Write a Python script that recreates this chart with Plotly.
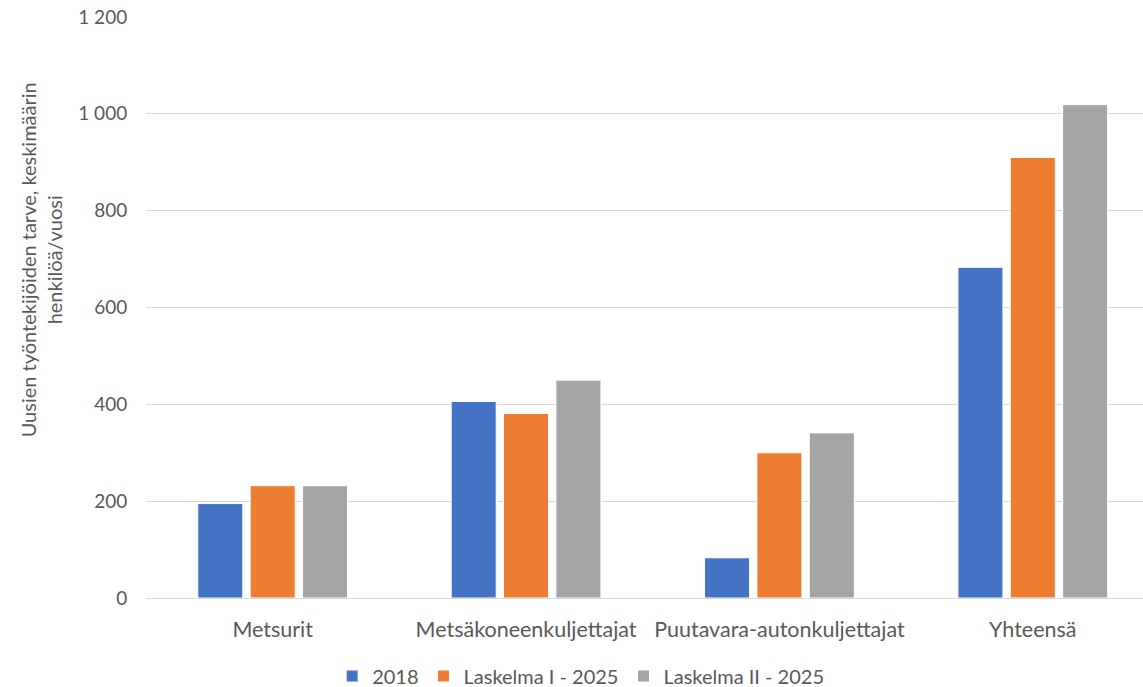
import plotly.graph_objects as go

categories = ["Metsurit", "Metsäkoneenkuljettajat", "Puutavara-autonkuljettajat", "Yhteensä"]
series_names = ["2018", "Laskelma I - 2025", "Laskelma II - 2025"]
values_2018 = [195, 406, 83, 683]
values_l1 = [232, 381, 300, 910]
values_l2 = [232, 450, 341, 1019]
colors = ["#4472C4", "#ED7D31", "#A5A5A5"]
y_ticks = [0, 200, 400, 600, 800, 1000, 1200]
y_title = "Uusien työntekijöiden tarve, keskimäärin<br>henkilöä/vuosi"

fig = go.Figure()
for name, vals, col in zip(series_names, [values_2018, values_l1, values_l2], colors):
    fig.add_trace(go.Bar(
        x=categories, y=vals, name=name,
        marker=dict(color=col, line=dict(color="white", width=1)),
    ))

txt = "#595959"
fig.update_layout(
    width=1143, height=687,
    paper_bgcolor="white", plot_bgcolor="white",
    margin=dict(l=146, r=0, t=17, b=89, autoexpand=False),
    barmode="group", bargap=0.38, bargroupgap=0.14,
    separators=", ",
    font=dict(family="Lato, Carlito, sans-serif", size=19, color=txt),
    legend=dict(orientation="h", xref="container", yref="container",
                x=0.508, xanchor="center", y=0.016, yanchor="middle",
                font=dict(size=20, color=txt), itemwidth=30,
                traceorder="normal"),
    showlegend=True,
)
fig.add_annotation(text=y_title, textangle=-90, xref="paper", yref="paper",
                   x=-0.105, y=0.5818, xanchor="center", yanchor="middle",
                   showarrow=False, align="center",
                   font=dict(size=20, color=txt))
fig.update_xaxes(range=[-0.5, 3.435], showgrid=False, showline=False,
                 automargin=False, ticks="outside", ticklen=12, tickcolor="white",
                 tickfont=dict(size=21.5, color=txt))
fig.update_yaxes(range=[0, 1200], tickvals=y_ticks, separatethousands=True,
                 tickformat=",d", automargin=False,
                 showgrid=True, gridcolor="#D9D9D9", gridwidth=1,
                 zeroline=True, zerolinecolor="#D9D9D9", zerolinewidth=1,
                 showline=False, ticks="outside", ticklen=14, tickcolor="white",
                 tickfont=dict(size=19, color=txt))
fig.write_html("out.html", config={"displayModeBar": False},
               post_script="document.body.style.margin='0';document.body.style.overflow='hidden';")
